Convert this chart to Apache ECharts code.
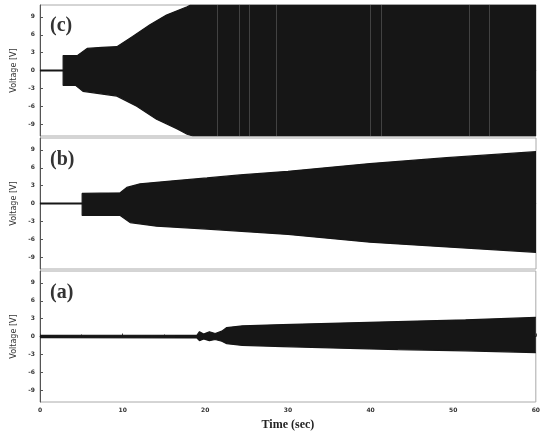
<!DOCTYPE html>
<html><head><meta charset="utf-8">
<script src="https://cdn.jsdelivr.net/npm/echarts@6/dist/echarts.min.js"></script>
<style>html,body{margin:0;padding:0;background:#fff}#c{width:543px;height:434px}</style>
</head><body><div id="c"></div>
<script>
// Panel (c)
const cTime  = [0, 2.8, 2.8, 4.5, 5.7, 7.5, 9.3, 11.2, 13.3, 15.3, 17.8, 18.2, 60];
const cUpper = [0, 0, 2.5, 2.5, 3.7, 3.9, 4.0, 5.7, 7.7, 9.3, 10.7, 11, 11];
const cLowT  = [0, 2.8, 2.8, 4.3, 5.2, 9.3, 11.7, 14.1, 16.6, 17.8, 18.5, 60];
const cLower = [0, 0, -2.5, -2.5, -3.5, -4.3, -6.0, -8.2, -9.8, -10.7, -11, -11];
// Panel (b)
const bTime  = [0, 5.1, 5.1, 9.7, 10.5, 12.1, 16.1, 20.2, 24.2, 30, 39.9, 49.2, 60];
const bUpper = [0, 0, 1.7, 1.8, 2.7, 3.3, 3.8, 4.3, 4.8, 5.4, 6.7, 7.7, 8.7];
const bLowT  = [0, 5.1, 5.1, 9.7, 10.9, 14.1, 20.2, 30, 39.9, 49.2, 60];
const bLower = [0, 0, -2.0, -2.0, -3.2, -3.8, -4.3, -5.2, -6.5, -7.3, -8.2];
// Panel (a)
const aTime  = [0, 19.0, 19.3, 19.8, 20.5, 21.2, 22.0, 22.6, 24.5, 29.4, 37.5, 43.3, 51.5, 60];
const aUpper = [0.2, 0.25, 0.8, 0.4, 0.8, 0.5, 0.9, 1.5, 1.8, 2.0, 2.3, 2.5, 2.8, 3.2];
const aLower = [-0.2, -0.25, -0.7, -0.4, -0.7, -0.5, -0.8, -1.2, -1.5, -1.7, -2.0, -2.2, -2.4, -2.7];
// light streaks in the saturated signal of panel (c)
const cStreaks = [21.5, 24.1, 25.3, 28.6, 39.9, 41.3, 51.9, 54.4];

const yTicks = [-9, -6, -3, 0, 3, 6, 9];
const panelLabels = ['(c)', '(b)', '(a)'];
const ink = '#161616';

const zip = (t, v) => t.map((x, i) => [x, v[i]]);
const grids = [
  {left: 40, top: 5, width: 496, height: 131},
  {left: 40, top: 138, width: 496, height: 131},
  {left: 40, top: 271, width: 496, height: 131}
].map(g => Object.assign(g, {show: true, borderColor: '#aaa', borderWidth: 1}));

const xAxes = [0, 1, 2].map(i => ({
  type: 'value', gridIndex: i, min: 0, max: 60, interval: 10,
  axisLine: {show: true, lineStyle: {color: i === 2 ? '#444' : '#aaa', width: 1}},
  axisTick: {show: i === 2, inside: true, length: 3, lineStyle: {color: '#444'}},
  minorTick: {show: i === 2, splitNumber: 2, length: 2, lineStyle: {color: '#444'}},
  axisLabel: {show: i === 2, fontSize: 6, fontWeight: 'bold', color: '#333', margin: 5,
              fontFamily: 'DejaVu Sans'},
  splitLine: {show: false},
  name: i === 2 ? 'Time (sec)' : '', nameLocation: 'middle', nameGap: 17,
  nameTextStyle: {fontFamily: 'Liberation Serif', fontWeight: 'bold', fontSize: 12, color: '#222'}
}));
const yAxes = [0, 1, 2].map(i => ({
  type: 'value', gridIndex: i, min: -11, max: 11,
  axisLine: {show: true, lineStyle: {color: '#555', width: 1}},
  axisTick: {show: true, inside: true, length: 3, customValues: yTicks, lineStyle: {color: '#555'}},
  axisLabel: {fontSize: 6, fontWeight: 'bold', color: '#333', margin: 5, customValues: yTicks,
              fontFamily: 'DejaVu Sans'},
  splitLine: {show: false},
  name: 'Voltage [V]', nameLocation: 'middle', nameGap: 18,
  nameTextStyle: {fontFamily: 'DejaVu Sans', fontSize: 8, color: '#333'}
}));

function band(idx, t, v, origin, streaks) {
  const s = {
    type: 'line', xAxisIndex: idx, yAxisIndex: idx, data: zip(t, v),
    symbol: 'none', smooth: false, clip: true,
    lineStyle: {color: ink, width: 1.2},
    areaStyle: {color: ink, opacity: 1, origin: origin},
    z: 2, silent: true
  };
  if (streaks) {
    s.markLine = {
      symbol: 'none', silent: true, label: {show: false},
      lineStyle: {color: '#555', width: 1, type: 'solid', opacity: 0.7},
      data: streaks.map(x => ({xAxis: x}))
    };
  }
  return s;
}

const series = [
  band(0, cTime, cUpper, -0.15, cStreaks), band(0, cLowT, cLower, 0.15),
  band(1, bTime, bUpper, -0.15), band(1, bLowT, bLower, 0.15),
  band(2, aTime, aUpper, -0.1), band(2, aTime, aLower, 0.1)
];

const chart = echarts.init(document.getElementById('c'), null, {renderer: 'canvas'});
chart.setOption({
  animation: false,
  backgroundColor: '#fff',
  grid: grids, xAxis: xAxes, yAxis: yAxes, series,
  graphic: panelLabels.map((txt, i) => ({
    type: 'text', left: 50, top: [16, 150, 283][i],
    style: {text: txt, fontFamily: 'Liberation Serif', fontWeight: 'bold', fontSize: 20, fill: '#333'}
  }))
});
</script></body></html>
